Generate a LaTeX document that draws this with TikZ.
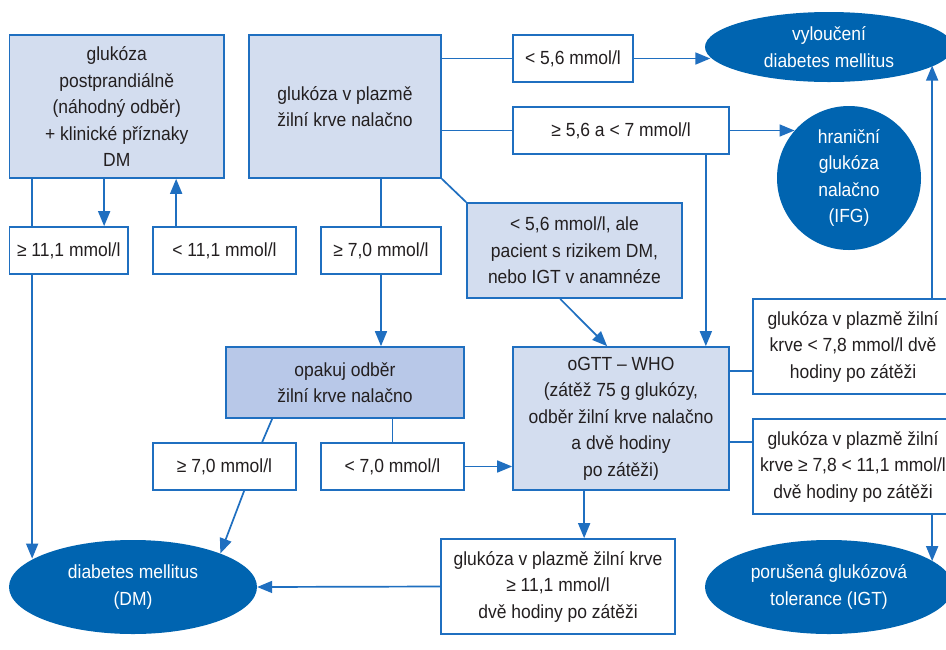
\documentclass[tikz,border=0pt]{standalone}
\usepackage{fontspec}
\setmainfont{Liberation Sans}[FakeStretch=0.92]
\usetikzlibrary{arrows.meta,shapes.geometric}
\definecolor{lineblue}{HTML}{1F6FC0}
\definecolor{ellblue}{HTML}{0064B0}
\definecolor{boxfill}{HTML}{D3DDEF}
\definecolor{boxdark}{HTML}{B8C8E8}
\definecolor{txt}{HTML}{231F20}
\begin{document}
\begin{tikzpicture}[x=1pt,y=-1pt,
  every node/.style={font=\fontsize{19}{26.5}\selectfont, text=txt, align=center, inner sep=0pt},
  box/.style={draw=lineblue, line width=1.7pt, rectangle, fill=white},
  fbox/.style={box, fill=boxfill},
  dbox/.style={box, fill=boxdark},
  ell/.style={ellipse, fill=ellblue, text=white, inner sep=0pt},
  ln/.style={draw=lineblue, line width=1.7pt},
  arr/.style={ln, -{Triangle[length=15pt,width=12pt]}},
]
\clip (0,0) rectangle (946,649);
\fill[white] (0,0) rectangle (946,649);

% boxes
\node[fbox, minimum width=214.5pt, minimum height=143pt] (A) at (116.75,106.5)
  {glukóza\\postprandiálně\\(náhodný odběr)\\+ klinické příznaky\\DM};
\node[fbox, minimum width=192pt, minimum height=143pt] (B) at (345,106.5)
  {glukóza v plazmě\\žilní krve nalačno};
\node[box, minimum width=118.5pt, minimum height=47pt] (g111) at (68.75,250.5) {≥ 11,1 mmol/l};
\node[box, minimum width=143pt, minimum height=47pt] (l111) at (224.5,250.5) {< 11,1 mmol/l};
\node[box, minimum width=120pt, minimum height=47pt] (g70a) at (381,250.5) {≥ 7,0 mmol/l};
\node[box, minimum width=120pt, minimum height=47pt] (l56) at (573,58.5) {< 5,6 mmol/l};
\node[box, minimum width=216pt, minimum height=47pt] (g56) at (621,130.5) {≥ 5,6 a < 7 mmol/l};
\node[fbox, minimum width=215pt, minimum height=95pt] (riz) at (574.5,250.5)
  {< 5,6 mmol/l, ale\\pacient s rizikem DM,\\nebo IGT v anamnéze};
\node[dbox, minimum width=238pt, minimum height=71pt] (opak) at (345,382.5)
  {opakuj odběr\\žilní krve nalačno};
\node[box, minimum width=143pt, minimum height=47pt] (g70b) at (224.5,466.5) {≥ 7,0 mmol/l};
\node[box, minimum width=143pt, minimum height=47pt] (l70) at (392.5,466.5) {< 7,0 mmol/l};
\node[fbox, minimum width=216pt, minimum height=143pt] (ogtt) at (621,418.5)
  {oGTT – WHO\\(zátěž 75 g glukózy,\\odběr žilní krve nalačno\\a dvě hodiny\\po zátěži)};
\node[box, minimum width=200pt, minimum height=95pt] (l78) at (853,346.5)
  {glukóza v plazmě žilní\\krve < 7,8 mmol/l dvě\\hodiny po zátěži};
\node[box, minimum width=200pt, minimum height=95pt] (g78) at (853,466.5)
  {glukóza v plazmě žilní\\krve ≥ 7,8 < 11,1 mmol/l\\dvě hodiny po zátěži};
\node[box, minimum width=234pt, minimum height=95pt] (bot) at (558,586.5)
  {glukóza v plazmě žilní krve\\≥ 11,1 mmol/l\\dvě hodiny po zátěži};

% ellipses
\node[ell, minimum width=248pt, minimum height=70pt] (vyl) at (829,47) {vyloučení\\diabetes mellitus};
\node[circle, fill=ellblue, text=white, inner sep=0pt, minimum size=144pt] (IFG) at (849,178)
  {hraniční\\glukóza\\nalačno\\(IFG)};
\node[ell, minimum width=248pt, minimum height=94pt] (DM) at (133,587) {diabetes mellitus\\(DM)};
\node[ell, minimum width=248pt, minimum height=94pt] (IGT) at (829,587) {porušená glukózová\\tolerance (IGT)};

% connectors
\coordinate (a1) at ([xshift=23.5pt]A.south west);
\draw[ln] (a1) -- (a1 |- g111.north);
\draw[arr] (a1 |- g111.south) -- (a1 |- DM.164);
\coordinate (a2) at ([xshift=95.5pt]A.south west);
\draw[arr] (a2) -- (a2 |- g111.north);
\coordinate (a3) at ([xshift=24pt]l111.north west);
\draw[arr] (a3) -- (a3 |- A.south);

\draw[ln] (B.south -| g70a.north) -- (g70a.north);
\draw[arr] (g70a.south) -- (g70a.south |- opak.north);
\draw[ln] (B.south east) -- (riz.north west);
\draw[ln] (B.east |- l56.west) -- (l56.west);
\draw[arr] (l56.east) -- (l56.east -| vyl.185);
\draw[ln] (B.east |- g56.west) -- (g56.west);
\draw[arr] (g56.east) -- (g56.east -| IFG.139);

\coordinate (g1) at ([xshift=-24pt]g56.south east);
\draw[arr] (g1) -- (g1 |- ogtt.north);
\draw[arr] ([xshift=94pt]riz.south west) -- ([xshift=95pt]ogtt.north west);

\draw[ln] ([xshift=47pt]opak.south west) -- ([xshift=110pt]g70b.north west);
\draw[arr] ([xshift=92pt]g70b.south west) -- (DM.21);
\draw[ln] (l70.north |- opak.south) -- (l70.north);
\draw[arr] (l70.east) -- (l70.east -| ogtt.west);

\coordinate (o1) at ([yshift=-24.5pt]l78.west);
\draw[ln] (o1 -| ogtt.east) -- (o1);
\coordinate (o2) at ([yshift=24.5pt]g78.west);
\draw[ln] (o2 -| ogtt.east) -- (o2);
\coordinate (r1) at ([xshift=180pt]l78.north west);
\draw[arr] (r1) -- (r1 |- vyl.-10);
\coordinate (r2) at ([xshift=180pt]g78.south west);
\draw[arr] (r2) -- (r2 |- IGT.14);
\coordinate (b1) at ([xshift=72pt]ogtt.south west);
\draw[arr] (b1) -- (b1 |- bot.north);
\draw[arr] (bot.west) -- (DM.east);
\end{tikzpicture}
\end{document}
